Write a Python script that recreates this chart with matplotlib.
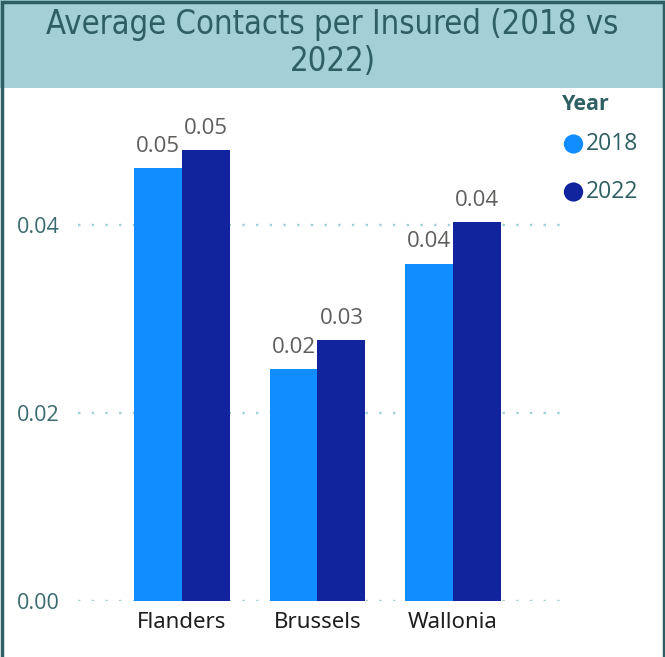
import matplotlib
matplotlib.use("Agg")
import matplotlib.pyplot as plt
from matplotlib.patches import Rectangle
import numpy as np

regions = ["Flanders", "Brussels", "Wallonia"]
years = ["2018", "2022"]
vals_2018 = [0.0461, 0.0247, 0.0359]
vals_2022 = [0.0480, 0.0278, 0.0403]
yticks = [0.00, 0.02, 0.04]
title = "Average Contacts per Insured (2018 vs\n2022)"

c2018 = "#118DFF"
c2022 = "#12239E"
teal = "#2E5F63"
band = "#A3CFD6"

W, H = 665, 657
fig = plt.figure(figsize=(W/100, H/100), dpi=100)

# title band
fig.patches.append(Rectangle((0, 1-88/H), 1, 88/H, transform=fig.transFigure,
                             facecolor=band, edgecolor="none", zorder=0))
# border
fig.patches.append(Rectangle((1.5/W, -0.01), (W-3)/W, 1.01 - 1.5/H, transform=fig.transFigure,
                             facecolor="none", edgecolor=teal, linewidth=2.5, zorder=5))

fig.text(0.5, 1-43/H, title, ha="center", va="center", fontsize=23.5, color=teal,
         family="DejaVu Sans", fontstretch="condensed", linespacing=1.18)

ax = fig.add_axes([78/W, 1-601/H, (565-78)/W, (601-100)/H])
x = np.arange(len(regions))
bw = 0.354
b1 = ax.bar(x - bw/2, vals_2018, bw, color=c2018, zorder=2)
b2 = ax.bar(x + bw/2, vals_2022, bw, color=c2022, zorder=2)
for bars, vals in ((b1, vals_2018), (b2, vals_2022)):
    for rect, v in zip(bars, vals):
        ax.annotate(f"{v:.2f}", (rect.get_x() + rect.get_width()/2, v),
                    xytext=(0, 8), textcoords="offset points", ha="center", va="bottom",
                    fontsize=16, color="#605E5C", family="Open Sans")

ax.set_xlim(-0.7675, 2.827)
ax.set_ylim(0, 0.0533)
ax.set_yticks(yticks)
ax.set_yticklabels([f"{t:.2f}" for t in yticks], fontsize=15.5, color="#3A6B70", family="Open Sans")
ax.set_xticks(x)
ax.set_xticklabels(regions, fontsize=16, color="#1F1E1D", family="Noto Sans")
ax.tick_params(length=0)
ax.tick_params(axis="y", pad=13)
ax.tick_params(axis="x", pad=8)
for s in ax.spines.values():
    s.set_visible(False)
ax.yaxis.grid(True, color="#A3CFD6", linestyle=(0, (1, 4.8)), linewidth=1.7)
ax.set_axisbelow(True)

# legend
fig.text(562/W, 1-104/H, "Year", fontsize=15.5, fontweight="bold", color=teal,
         family="Open Sans", va="center", ha="left")
for i, (yr, c) in enumerate(zip(years, [c2018, c2022])):
    yy = 1 - (144 + 48*i)/H
    fig.patches.append(plt.Circle((573.5/W, yy), 9.7/W, transform=fig.transFigure,
                                  facecolor=c, edgecolor="none"))
    fig.text(586/W, yy, yr, fontsize=16.5, color=teal, family="Open Sans", va="center", ha="left")

fig.savefig("out.png", dpi=100)
